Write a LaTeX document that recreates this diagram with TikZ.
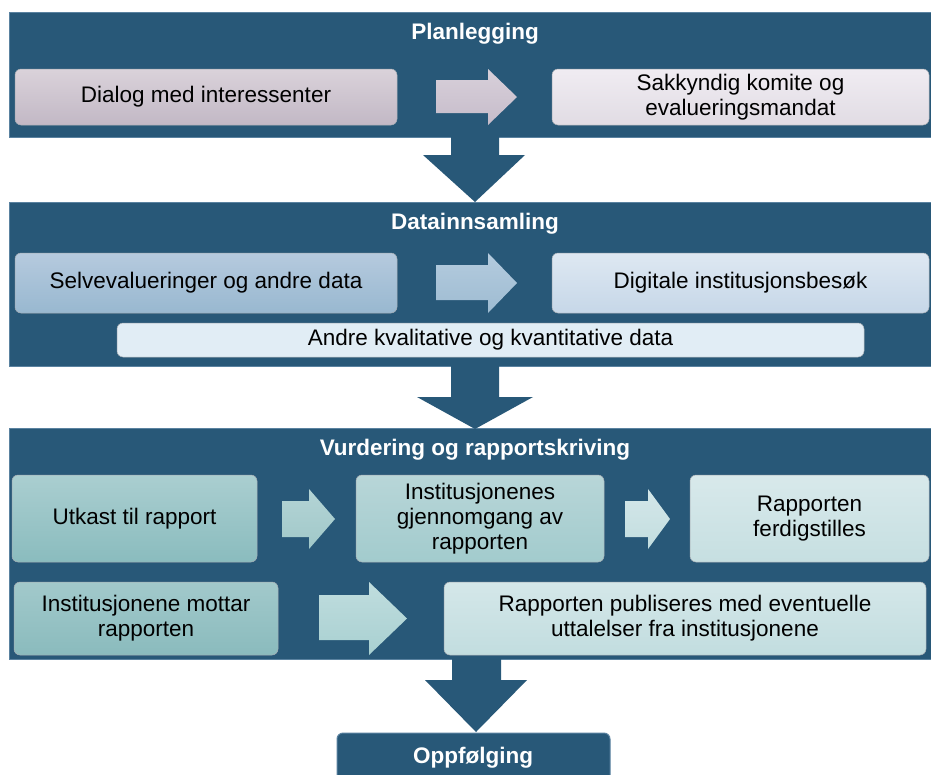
\documentclass[tikz,border=0pt]{standalone}
\usepackage{fontspec}
\setmainfont{Liberation Sans}
\definecolor{panel}{RGB}{40,88,120}
\definecolor{panelrim}{RGB}{90,130,160}
\definecolor{boxrim}{RGB}{110,120,130}
\begin{document}
\begin{tikzpicture}[x=1pt,y=-1pt,
  every node/.style={font=\fontsize{22.5}{25}\selectfont, text=black},
  panelbox/.style={fill=panel, draw=panelrim, line width=1pt},
  titletext/.style={font=\fontsize{22.5}{25}\selectfont\bfseries, text=white},
  stagebox/.style={draw=boxrim!60, line width=0.5pt, rounded corners=6pt, align=center, inner sep=2pt},
  downarrow/.style={fill=panel, draw=none}
]
\useasboundingbox (0,0) rectangle (931,774);
\fill[white] (0,0) rectangle (931,774);

% ---------- Panels ----------
\draw[panelbox] (9,12) rectangle (940,137);
\draw[panelbox] (9,202) rectangle (940,366);
\draw[panelbox] (9,428) rectangle (940,659);

% ---------- Down arrows ----------
\fill[downarrow] (451,136) -- (499,136) -- (499,155) -- (525,155) -- (475,202) -- (423,155) -- (451,155) -- cycle;
\fill[downarrow] (451,365) -- (499,365) -- (499,397) -- (533,397) -- (475,429) -- (417,397) -- (451,397) -- cycle;
\fill[downarrow] (452,658) -- (501,658) -- (501,680) -- (527,680) -- (476,732) -- (425,680) -- (452,680) -- cycle;

% ---------- Oppfolging ----------
\draw[panelbox, rounded corners=6pt] (337,790) -- (337,733) -- (610,733) -- (610,790);
\node[titletext] (opp) at (473,758) {Oppfølging};

% ---------- Titles ----------
\node[titletext] (t1) at (475,34) {Planlegging};
\node[titletext] (t2) at (475,224) {Datainnsamling};
\node[titletext] (t3) at (475,450) {Vurdering og rapportskriving};

% ---------- Planlegging ----------
\node[stagebox, top color={rgb,255:red,218;green,210;blue,218}, bottom color={rgb,255:red,194;green,184;blue,197},
  minimum width=382pt, minimum height=56pt] (dialog) at (206,97) {Dialog med interessenter};
\node[stagebox, top color={rgb,255:red,240;green,236;blue,242}, bottom color={rgb,255:red,225;green,220;blue,228},
  minimum width=377pt, minimum height=56pt] (sak) at (740.5,97) {Sakkyndig komite og\\evalueringsmandat};
\shade[top color={rgb,255:red,216;green,208;blue,218}, bottom color={rgb,255:red,198;green,188;blue,202}]
  (436,80) -- (488,80) -- (488,69) -- (517,97) -- (488,125) -- (488,113) -- (436,113) -- cycle;

% ---------- Datainnsamling ----------
\node[stagebox, top color={rgb,255:red,182;green,202;blue,222}, bottom color={rgb,255:red,152;green,184;blue,208},
  minimum width=382pt, minimum height=60pt] (selv) at (206,283) {Selvevalueringer og andre data};
\node[stagebox, top color={rgb,255:red,222;green,232;blue,242}, bottom color={rgb,255:red,198;green,215;blue,232},
  minimum width=377pt, minimum height=60pt] (dig) at (740.5,283) {Digitale institusjonsbesøk};
\node[stagebox, fill={rgb,255:red,225;green,237;blue,245},
  minimum width=747pt, minimum height=34pt] (andre) at (490.5,340) {Andre kvalitative og kvantitative data};
\shade[top color={rgb,255:red,180;green,203;blue,222}, bottom color={rgb,255:red,158;green,188;blue,210}]
  (436,265) -- (488,265) -- (488,253) -- (517,283) -- (488,313) -- (488,300) -- (436,300) -- cycle;

% ---------- Vurdering ----------
\node[stagebox, top color={rgb,255:red,170;green,206;blue,208}, bottom color={rgb,255:red,138;green,188;blue,190},
  minimum width=245pt, minimum height=87pt] (utkast) at (134.5,518.5) {Utkast til rapport};
\node[stagebox, top color={rgb,255:red,184;green,214;blue,216}, bottom color={rgb,255:red,162;green,203;blue,205},
  minimum width=248pt, minimum height=87pt] (inst) at (480,518.5) {Institusjonenes\\gjennomgang av\\rapporten};
\node[stagebox, top color={rgb,255:red,216;green,233;blue,235}, bottom color={rgb,255:red,198;green,223;blue,225},
  minimum width=239pt, minimum height=87pt] (ferd) at (809.5,518.5) {Rapporten\\ferdigstilles};
\node[stagebox, top color={rgb,255:red,162;green,201;blue,203}, bottom color={rgb,255:red,138;green,187;blue,189},
  minimum width=264pt, minimum height=73pt] (mottar) at (146,618.5) {Institusjonene mottar\\rapporten};
\node[stagebox, top color={rgb,255:red,212;green,231;blue,233}, bottom color={rgb,255:red,194;green,221;blue,223},
  minimum width=482pt, minimum height=73pt] (publ) at (685,618.5) {Rapporten publiseres med eventuelle\\uttalelser fra institusjonene};

\shade[top color={rgb,255:red,180;green,212;blue,213}, bottom color={rgb,255:red,160;green,200;blue,201}]
  (282,501) -- (309,501) -- (309,489) -- (335,519) -- (309,549) -- (309,537) -- (282,537) -- cycle;
\shade[top color={rgb,255:red,212;green,231;blue,233}, bottom color={rgb,255:red,194;green,221;blue,223}]
  (625,501) -- (648,501) -- (648,489) -- (670,519) -- (648,549) -- (648,537) -- (625,537) -- cycle;
\shade[top color={rgb,255:red,192;green,221;blue,222}, bottom color={rgb,255:red,168;green,208;blue,209}]
  (319,595) -- (369,595) -- (369,582) -- (407,618.5) -- (369,655) -- (369,640) -- (319,640) -- cycle;
\end{tikzpicture}
\end{document}
